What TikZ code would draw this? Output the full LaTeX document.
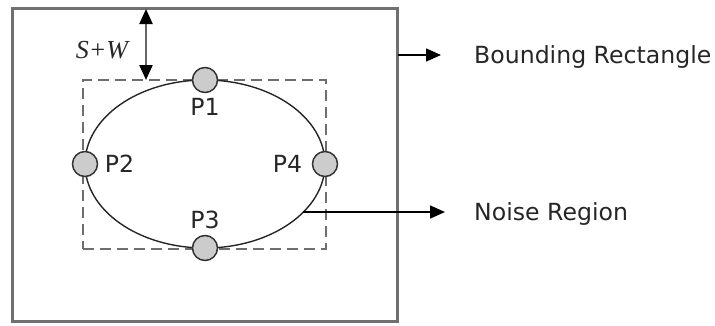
\documentclass[tikz,border=0pt]{standalone}
\usepackage{fontspec}
\setmainfont{DejaVu Sans}
\newfontfamily\timesfont{Liberation Serif}
\usetikzlibrary{arrows.meta, positioning, shapes.geometric}

\definecolor{framegray}{RGB}{112,112,112}
\definecolor{dashgray}{RGB}{110,110,110}
\definecolor{dotgray}{RGB}{204,204,204}

\begin{document}
\begin{tikzpicture}[
        x=1pt, y=-1pt,
        >={Triangle[length=15pt, width=13pt]},
        every node/.style={font=\fontsize{23.6}{28}\selectfont, text=black!85},
        boundbox/.style={draw=framegray, line width=3pt, minimum width=385pt, minimum height=313pt, inner sep=0pt, outer sep=0pt},
        regionbox/.style={draw=dashgray, line width=2.8pt, dash pattern=on 11pt off 6pt, minimum width=243pt, minimum height=169pt, inner sep=0pt, outer sep=0pt},
        noisebox/.style={ellipse, draw=black!85, line width=1.4pt, minimum width=240pt, minimum height=168pt, inner sep=0pt, outer sep=0pt},
        pointdot/.style={circle, draw=black!80, fill=dotgray, line width=1.5pt, minimum size=25pt, inner sep=0pt},
        labeltext/.style={inner sep=0pt, anchor=base west},
        arr/.style={->, line width=1.5pt},
        darr/.style={<->, line width=2.2pt, draw=black!60, >={Triangle[length=15pt, width=13pt, color=black]}},
    ]
    \useasboundingbox (0,0) rectangle (715,325);

    %% ===== Bounding rectangle and noise region =====
    \node[boundbox] (bound) at (205.25,165.25) {};
    \node[regionbox] (region) at (204.5,164.5) {};
    \node[noisebox] (noise) at (205,164) {};

    %% ===== Points on the ellipse =====
    \node[pointdot] (p1) at (noise.north) {};
    \node[pointdot] (p2) at (noise.west) {};
    \node[pointdot] (p3) at (noise.south) {};
    \node[pointdot] (p4) at (noise.east) {};
    \node[below=2pt of p1] (p1lbl) {P1};
    \node[right=3pt of p2] (p2lbl) {P2};
    \node[above=2pt of p3] (p3lbl) {P3};
    \node[left=6pt of p4] (p4lbl) {P4};

    %% ===== Distance S+W =====
    \coordinate (swtop) at (146,9);
    \draw[darr] (swtop) -- (swtop |- region.north);
    \node (swlbl) at (102,50) {\timesfont\fontsize{26}{30}\selectfont\itshape S+W};

    %% ===== Legend arrows =====
    \coordinate (bndtip) at (441,55);
    \draw[arr] (bound.east |- bndtip) -- (bndtip);
    \node[labeltext] (bndlbl) at ([xshift=33pt, yshift=-8.5pt]bndtip) {Bounding Rectangle};

    \coordinate (noisetip) at ([xshift=4pt]noise.-26 -| bndtip);
    \draw[arr] (noise.-26) -- (noisetip);
    \node[labeltext] (noiselbl) at ([xshift=29pt, yshift=-8.5pt]noisetip) {Noise Region};

\end{tikzpicture}
\end{document}
